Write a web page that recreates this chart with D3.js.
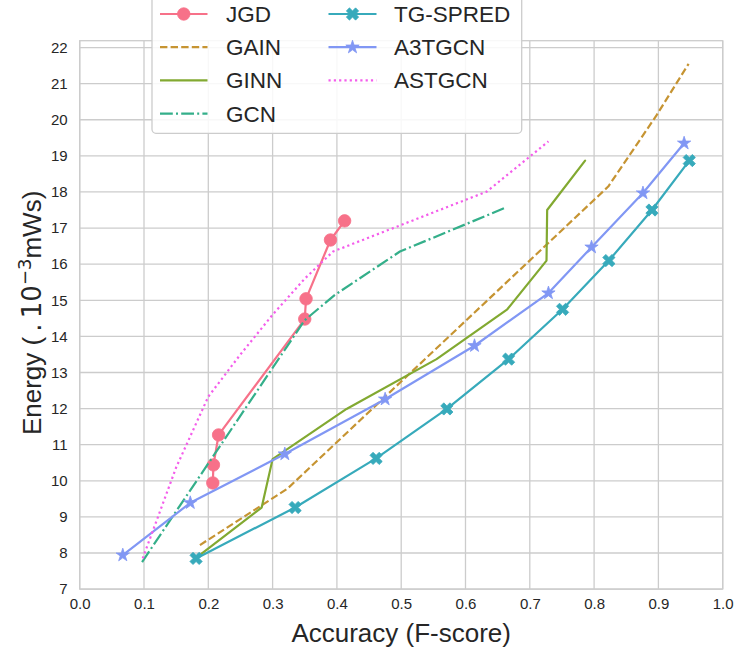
<!DOCTYPE html>
<html>
<head>
<meta charset="utf-8">
<script src="https://cdn.jsdelivr.net/npm/d3@7"></script>
<style>
  body { margin: 0; background: #ffffff; }
  text { font-family: "Liberation Sans", Arial, Helvetica, sans-serif; fill: #262626; }
</style>
</head>
<body>
<svg id="chart" width="739" height="654"></svg>
<script>
// ---- data ----
const seriesNames = ["JGD", "GAIN", "GINN", "GCN", "TG-SPRED", "A3TGCN", "ASTGCN"];

const jgdX = [0.207, 0.208, 0.216, 0.350, 0.352, 0.390, 0.412];
const jgdY = [9.94, 10.44, 11.27, 14.48, 15.04, 16.67, 17.20];

const gainX = [0.187, 0.323, 0.822, 0.897, 0.947];
const gainY = [8.22, 9.78, 18.15, 20.12, 21.55];

const ginnX = [0.180, 0.283, 0.300, 0.415, 0.555, 0.665, 0.726, 0.727, 0.786];
const ginnY = [7.85, 9.26, 10.60, 11.99, 13.37, 14.75, 16.10, 17.50, 18.87];

const gcnX = [0.097, 0.200, 0.350, 0.397, 0.498, 0.663];
const gcnY = [7.75, 10.48, 14.45, 15.15, 16.35, 17.57];

const tgX = [0.181, 0.335, 0.461, 0.571, 0.667, 0.751, 0.823, 0.890, 0.948];
const tgY = [7.85, 9.26, 10.62, 11.99, 13.37, 14.75, 16.10, 17.50, 18.87];

const a3X = [0.067, 0.172, 0.319, 0.475, 0.614, 0.729, 0.796, 0.876, 0.940];
const a3Y = [7.94, 9.39, 10.74, 12.26, 13.74, 15.20, 16.47, 17.97, 19.35];

const astX = [0.098, 0.150, 0.200, 0.250, 0.300, 0.350, 0.394, 0.633, 0.729];
const astY = [7.85, 10.37, 12.33, 13.50, 14.60, 15.60, 16.35, 18.01, 19.40];

const xTicks = [0.0, 0.1, 0.2, 0.3, 0.4, 0.5, 0.6, 0.7, 0.8, 0.9, 1.0];
const yTicks = [7, 8, 9, 10, 11, 12, 13, 14, 15, 16, 17, 18, 19, 20, 21, 22];

const xLabel = "Accuracy (F-score)";

// ---- HSLuv colour conversion (for the husl palette) ----
const M = [
  [3.240969941904521, -1.537383177570093, -0.498610760293],
  [-0.96924363628087, 1.87596750150772, 0.041555057407175],
  [0.055630079696993, -0.20397695888897, 1.056971514242878]
];
const KAPPA = 903.2962962, EPS = 0.0088564516, REF_U = 0.19783000664283, REF_V = 0.46831999493879;
function bounds(L) {
  const sub1 = Math.pow(L + 16, 3) / 1560896;
  const sub2 = sub1 > EPS ? sub1 : L / KAPPA;
  const out = [];
  for (let c = 0; c < 3; c++) {
    const [m1, m2, m3] = M[c];
    for (let t = 0; t < 2; t++) {
      const top1 = (284517 * m1 - 94839 * m3) * sub2;
      const top2 = (838422 * m3 + 769860 * m2 + 731718 * m1) * L * sub2 - 769860 * t * L;
      const bottom = (632260 * m3 - 126452 * m2) * sub2 + 126452 * t;
      out.push([top1 / bottom, top2 / bottom]);
    }
  }
  return out;
}
function maxChroma(L, H) {
  const hr = H / 360 * Math.PI * 2;
  let m = Infinity;
  for (const [slope, icpt] of bounds(L)) {
    const len = icpt / (Math.sin(hr) - slope * Math.cos(hr));
    if (len >= 0) m = Math.min(m, len);
  }
  return m;
}
function husl(H, S, L) {
  const C = maxChroma(L, H) / 100 * S;
  const hr = H / 180 * Math.PI;
  const u = Math.cos(hr) * C, v = Math.sin(hr) * C;
  const vu = u / (13 * L) + REF_U, vv = v / (13 * L) + REF_V;
  const Y = L <= 8 ? L / KAPPA : Math.pow((L + 16) / 116, 3);
  const X = -(9 * Y * vu) / ((vu - 4) * vv - vu * vv);
  const Z = (9 * Y - 15 * vv * Y - vv * X) / (3 * vv);
  const rgb = M.map(r => r[0] * X + r[1] * Y + r[2] * Z).map(c => {
    const s = c <= 0.0031308 ? 12.92 * c : 1.055 * Math.pow(c, 1 / 2.4) - 0.055;
    return Math.round(Math.max(0, Math.min(1, s)) * 255);
  });
  return d3.rgb(rgb[0], rgb[1], rgb[2]).formatHex();
}
const palette = d3.range(7).map(i => husl(((i / 7 + 0.01) % 1) * 359, 0.9 * 99, 0.65 * 99));

// ---- layout ----
const svg = d3.select("#chart");
const W = 739, H = 654;
const plot = { left: 79.7, right: 722.7, top: 40.7, bottom: 589.1 };

const x = d3.scaleLinear().domain([0, 1]).range([plot.left, plot.right]);
const y = d3.scaleLinear().domain([7, 22.19]).range([plot.bottom, plot.top]);

svg.append("rect").attr("width", W).attr("height", H).attr("fill", "#ffffff");

// grid
const grid = svg.append("g").attr("stroke", "#cccccc").attr("stroke-width", 1.3);
grid.selectAll("line.gx").data(xTicks).join("line")
  .attr("x1", d => x(d)).attr("x2", d => x(d))
  .attr("y1", plot.top).attr("y2", plot.bottom);
grid.selectAll("line.gy").data(yTicks).join("line")
  .attr("x1", plot.left).attr("x2", plot.right)
  .attr("y1", d => y(d)).attr("y2", d => y(d));

// frame
svg.append("rect")
  .attr("x", plot.left).attr("y", plot.top)
  .attr("width", plot.right - plot.left).attr("height", plot.bottom - plot.top)
  .attr("fill", "none").attr("stroke", "#cccccc").attr("stroke-width", 1.3);

// axes (tick labels only)
const xAxis = d3.axisBottom(x).tickValues(xTicks).tickFormat(d3.format(".1f")).tickSize(0).tickPadding(9);
const yAxis = d3.axisLeft(y).tickValues(yTicks).tickFormat(d3.format("d")).tickSize(0).tickPadding(12);
const gx = svg.append("g").attr("transform", `translate(0,${plot.bottom})`).call(xAxis);
const gy = svg.append("g").attr("transform", `translate(${plot.left},0)`).call(yAxis);
[gx, gy].forEach(g => {
  g.select(".domain").remove();
  g.selectAll("text").attr("font-size", 15).attr("fill", "#262626")
    .attr("font-family", "'Liberation Sans', Arial, sans-serif");
});

// axis titles
svg.append("text").attr("x", (plot.left + plot.right) / 2).attr("y", 642)
  .attr("text-anchor", "middle").attr("font-size", 26).text(xLabel);

const yl = svg.append("text")
  .attr("transform", `translate(41,${(plot.top + plot.bottom) / 2 - 2}) rotate(-90)`)
  .attr("text-anchor", "middle").attr("font-size", 26);
yl.append("tspan").text("Energy (");
yl.append("tspan").attr("font-family", "'DejaVu Sans', sans-serif").text("\u2009.\u200910");
yl.append("tspan").attr("font-family", "'DejaVu Sans', sans-serif")
  .attr("font-size", 18).attr("dy", -10).text("\u22123");
yl.append("tspan").attr("dy", 10).text("mWs)");

// ---- markers ----
function starPath(size) {
  const R = size / 2, r = R * 0.381966, pts = [];
  for (let i = 0; i < 10; i++) {
    const a = -Math.PI / 2 + i * Math.PI / 5;
    const rad = i % 2 === 0 ? R : r;
    pts.push([Math.cos(a) * rad, Math.sin(a) * rad]);
  }
  return "M" + pts.map(p => p.join(",")).join("L") + "Z";
}
function xFilledPath(size) {
  const base = [[-1, -3], [1, -3], [1, -1], [3, -1], [3, 1], [1, 1], [1, 3], [-1, 3], [-1, 1], [-3, 1], [-3, -1], [-1, -1]];
  const c = Math.cos(Math.PI / 4), s = Math.sin(Math.PI / 4);
  const pts = base.map(([a, b]) => {
    const px = a / 6 * size, py = b / 6 * size;
    return [px * c - py * s, px * s + py * c];
  });
  return "M" + pts.map(p => p.join(",")).join("L") + "Z";
}
function circlePath(size) {
  const r = size / 2;
  return `M${r},0A${r},${r},0,1,1,${-r},0A${r},${r},0,1,1,${r},0Z`;
}

const series = [
  { name: seriesNames[0], xs: jgdX, ys: jgdY, dash: null, marker: circlePath(12.5) },
  { name: seriesNames[1], xs: gainX, ys: gainY, dash: "7.4,3.2", marker: null },
  { name: seriesNames[2], xs: ginnX, ys: ginnY, dash: null, marker: null },
  { name: seriesNames[3], xs: gcnX, ys: gcnY, dash: "12.8,3.2,2,3.2", marker: null },
  { name: seriesNames[4], xs: tgX, ys: tgY, dash: null, marker: xFilledPath(13) },
  { name: seriesNames[5], xs: a3X, ys: a3Y, dash: null, marker: starPath(14) },
  { name: seriesNames[6], xs: astX, ys: astY, dash: "2.2,3.1", marker: null }
];
series.forEach((s, i) => s.color = palette[i]);

const line = d3.line().x(d => x(d[0])).y(d => y(d[1]));
const LW = 2.2;

const marks = svg.append("g");
series.forEach(s => {
  const pts = s.xs.map((v, i) => [v, s.ys[i]]);
  marks.append("path").datum(pts)
    .attr("d", line).attr("fill", "none")
    .attr("stroke", s.color).attr("stroke-width", LW)
    .attr("stroke-dasharray", s.dash)
    .attr("stroke-linejoin", "round").attr("stroke-linecap", s.dash ? "butt" : "round");
  if (s.marker) {
    marks.append("g").selectAll("path").data(pts).join("path")
      .attr("d", s.marker)
      .attr("transform", d => `translate(${x(d[0])},${y(d[1])})`)
      .attr("fill", s.color).attr("stroke", s.color).attr("stroke-width", 0.8);
  }
});

// ---- legend ----
const leg = svg.append("g");
leg.append("rect")
  .attr("x", 152).attr("y", -10).attr("width", 369.7).attr("height", 143.3)
  .attr("rx", 4).attr("fill", "#ffffff").attr("fill-opacity", 0.85)
  .attr("stroke", "#cccccc").attr("stroke-width", 1.3);

const rowY = [14, 47.2, 80.4, 113.6];
const colX = [[160, 207.5, 226], [328.5, 376.5, 394]];
series.forEach((s, i) => {
  const col = i < 4 ? 0 : 1, row = i < 4 ? i : i - 4;
  const [x0, x1, tx] = colX[col];
  const cy = rowY[row];
  leg.append("line").attr("x1", x0).attr("x2", x1).attr("y1", cy).attr("y2", cy)
    .attr("stroke", s.color).attr("stroke-width", LW)
    .attr("stroke-dasharray", s.dash);
  if (s.marker) {
    leg.append("path").attr("d", s.marker)
      .attr("transform", `translate(${(x0 + x1) / 2},${cy})`)
      .attr("fill", s.color).attr("stroke", s.color).attr("stroke-width", 0.8);
  }
  leg.append("text").attr("x", tx).attr("y", cy + 8).attr("font-size", 22.5)
    .text(s.name);
});
</script>
</body>
</html>
